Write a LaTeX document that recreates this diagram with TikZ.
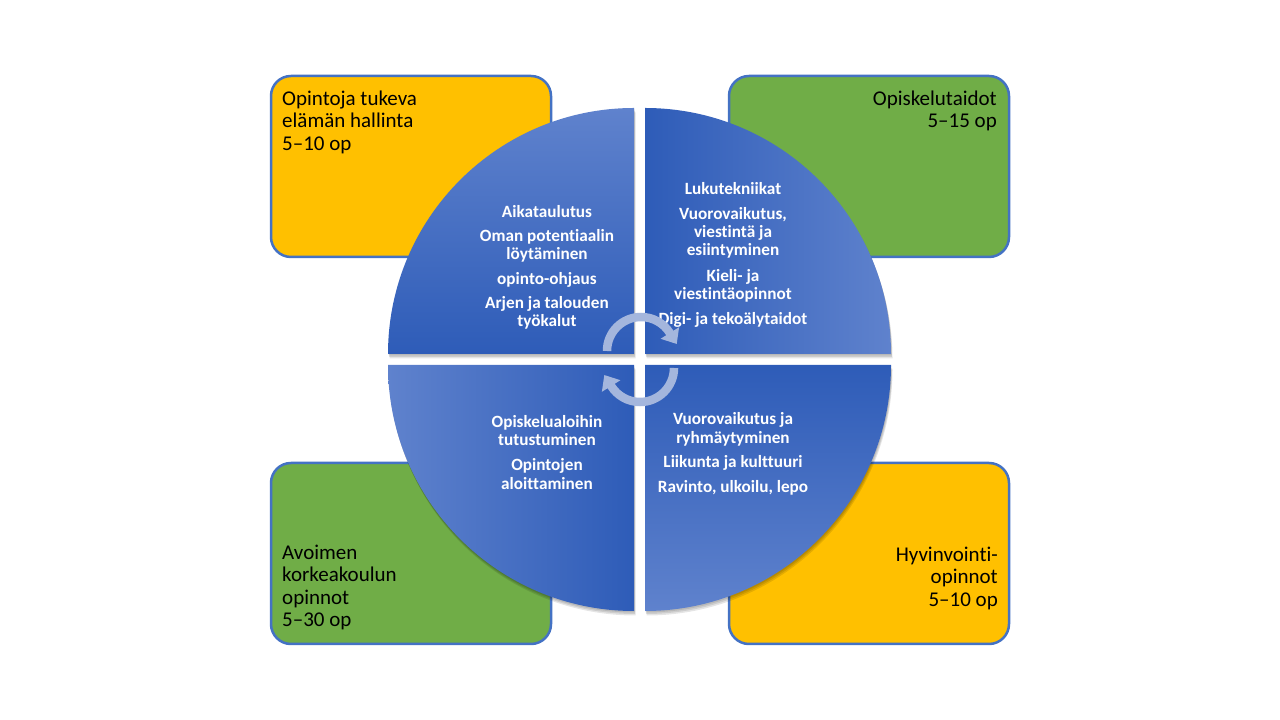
\documentclass[tikz,border=0pt]{standalone}
\usepackage{fontspec}
\setmainfont{Carlito}[Ligatures=NoCommon]
\usetikzlibrary{arrows.meta}
\definecolor{boxyellow}{HTML}{FFC000}
\definecolor{boxgreen}{HTML}{70AD47}
\definecolor{boxborder}{HTML}{4472C4}
\definecolor{secdark}{HTML}{2E5CB8}
\definecolor{secmid}{HTML}{3A6AC6}
\definecolor{seclight}{HTML}{5F82CD}
\definecolor{arrowcol}{HTML}{A4B6DD}
\begin{document}
\begin{tikzpicture}[x=1pt,y=1pt,
  box/.style={draw=boxborder,line width=2.5pt,rounded corners=20pt},
  boxtxt/.style={font=\fontsize{21}{22}\selectfont,text=black,inner sep=0pt},
  sectxt/.style={font=\fontsize{17.2}{18}\selectfont\bfseries,text=white,inner sep=0pt,anchor=base},
  shadowfill/.style={fill=black,opacity=0.1},
  cyc/.style={draw=arrowcol,line width=8.5pt,-{Triangle[width=21pt,length=13pt]}}]
\useasboundingbox (0,0) rectangle (1280,720);
\fill[white] (0,0) rectangle (1280,720);

% corner boxes
\draw[box,fill=boxyellow] (271,463) rectangle (551,644);
\draw[box,fill=boxgreen]  (729,463) rectangle (1009,644);
\draw[box,fill=boxgreen]  (271,76) rectangle (551,257);
\draw[box,fill=boxyellow] (729,76) rectangle (1009,257);

% box texts
\node[boxtxt,anchor=base west] (a1) at (282,614.5) {Opintoja tukeva};
\node[boxtxt,anchor=base west] (a2) at (282,592) {elämän hallinta};
\node[boxtxt,anchor=base west] (a3) at (282,569.5) {5–10 op};
\node[boxtxt,anchor=base east] (b1) at (997,614.5) {Opiskelutaidot};
\node[boxtxt,anchor=base east] (b2) at (997,592) {5–15 op};
\node[boxtxt,anchor=base west] (c1) at (282,160.5) {Avoimen};
\node[boxtxt,anchor=base west] (c2) at (282,138) {korkeakoulun};
\node[boxtxt,anchor=base west] (c3) at (282,115.5) {opinnot};
\node[boxtxt,anchor=base west] (c4) at (282,93) {5–30 op};
\node[boxtxt,anchor=base east] (d1) at (998,158.5) {Hyvinvointi-};
\node[boxtxt,anchor=base east] (d2) at (998,136) {opinnot};
\node[boxtxt,anchor=base east] (d3) at (998,113.5) {5–10 op};

% sector shadows (soft, mostly below)
\foreach \dx/\dy in {0.5/-1.5,1/-3,1.5/-4.5}{
\begin{scope}[shift={(\dx,\dy)}]
\fill[shadowfill] (634,366) -- (388,366) arc[start angle=180,end angle=90,radius=246] -- cycle;
\fill[shadowfill] (645,366) -- (645,612) arc[start angle=90,end angle=0,radius=246] -- cycle;
\fill[shadowfill] (634,355) -- (634,109) arc[start angle=270,end angle=180,radius=246] -- cycle;
\fill[shadowfill] (645,355) -- (891,355) arc[start angle=0,end angle=-90,radius=246] -- cycle;
\end{scope}}

% sectors
\shade[top color=seclight,middle color=secmid,bottom color=secdark]
  (634,366) -- (388,366) arc[start angle=180,end angle=90,radius=246] -- cycle;
\shade[left color=secdark,middle color=secmid,right color=seclight]
  (645,366) -- (645,612) arc[start angle=90,end angle=0,radius=246] -- cycle;
\shade[left color=seclight,middle color=secmid,right color=secdark]
  (634,355) -- (634,109) arc[start angle=270,end angle=180,radius=246] -- cycle;
\shade[top color=secdark,middle color=secmid,bottom color=seclight]
  (645,355) -- (891,355) arc[start angle=0,end angle=-90,radius=246] -- cycle;

% sector texts
\node[sectxt] (s1) at (547,502.7) {Aikataulutus};
\node[sectxt] (s2) at (547,478.3) {Oman potentiaalin};
\node[sectxt] (s3) at (547,460.7) {löytäminen};
\node[sectxt] (s4) at (547,435.7) {opinto-ohjaus};
\node[sectxt] (s5) at (547,411.7) {Arjen ja talouden};
\node[sectxt] (s6) at (547,393.3) {työkalut};

\node[sectxt] (t1) at (733,525) {Lukutekniikat};
\node[sectxt] (t2) at (733,500) {Vuorovaikutus,};
\node[sectxt] (t3) at (733,482.3) {viestintä ja};
\node[sectxt] (t4) at (733,464) {esiintyminen};
\node[sectxt] (t5) at (733,438.3) {Kieli- ja};
\node[sectxt] (t6) at (733,420) {viestintäopinnot};
\node[sectxt] (t7) at (733,395) {Digi- ja tekoälytaidot};

\node[sectxt] (u1) at (547,292.3) {Opiskelualoihin};
\node[sectxt] (u2) at (547,274) {tutustuminen};
\node[sectxt] (u3) at (547,249) {Opintojen};
\node[sectxt] (u4) at (547,230.7) {aloittaminen};

\node[sectxt] (v1) at (733,295) {Vuorovaikutus ja};
\node[sectxt] (v2) at (733,276.7) {ryhmäytyminen};
\node[sectxt] (v3) at (733,252.3) {Liikunta ja kulttuuri};
\node[sectxt] (v4) at (733,227.7) {Ravinto, ulkoilu, lepo};

% cycle arrows
\draw[cyc] (607,369) arc[start angle=180,end angle=32,radius=34] -- ++(-58:13);
\draw[cyc] (674,352) arc[start angle=0,end angle=-148,radius=34] -- ++(122:13);
\end{tikzpicture}
\end{document}
